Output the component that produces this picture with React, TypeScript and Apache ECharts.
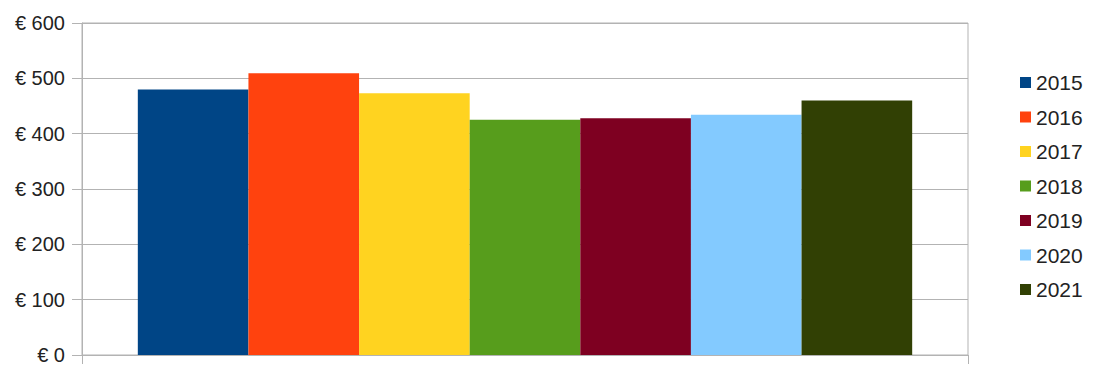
import React, { useEffect, useRef } from "react";
import * as echarts from "echarts";

const years = ["2015", "2016", "2017", "2018", "2019", "2020", "2021"];
const values = [480, 509, 473, 425, 428, 434, 460];
const colors = ["#004586", "#ff420e", "#ffd320", "#579d1c", "#7e0021", "#83caff", "#314004"];
const categories = [""];
const yTicks = { min: 0, max: 600, interval: 100 };

export default function App() {
  const ref = useRef<HTMLDivElement>(null);
  useEffect(() => {
    if (!ref.current) return;
    const chart = echarts.init(ref.current, undefined, { renderer: "svg" });
    const font = "Liberation Sans";
    chart.setOption({
      animation: false,
      grid: {
        left: 82,
        right: 127,
        top: 23,
        bottom: 9,
        show: true,
        borderColor: "#b3b3b3",
        borderWidth: 1,
      },
      legend: {
        orient: "vertical",
        left: 1020,
        top: 72,
        padding: 0,
        itemWidth: 11,
        itemHeight: 11,
        itemGap: 13.5,
        icon: "rect",
        textStyle: { fontFamily: font, fontSize: 21, color: "#222", lineHeight: 20 },
        data: years,
      },
      xAxis: {
        type: "category",
        data: categories,
        axisLine: { show: true, lineStyle: { color: "#b3b3b3" } },
        axisTick: { show: true, length: 9, lineStyle: { color: "#b3b3b3" } },
        axisLabel: { show: false },
      },
      yAxis: {
        type: "value",
        min: yTicks.min,
        max: yTicks.max,
        interval: yTicks.interval,
        axisLine: { show: true, lineStyle: { color: "#b3b3b3" } },
        axisTick: { show: true, length: 10, lineStyle: { color: "#b3b3b3" } },
        splitLine: { show: true, lineStyle: { color: "#b3b3b3" } },
        axisLabel: {
          margin: 17,
          fontFamily: font,
          fontSize: 20,
          color: "#222",
          formatter: (v: number) => "€ " + v,
        },
      },
      series: years.map((y, i) => ({
        name: y,
        type: "bar",
        data: [values[i]],
        itemStyle: { color: colors[i] },
        barGap: "0%",
        barCategoryGap: "12.6%",
      })),
    });
    return () => chart.dispose();
  }, []);
  return <div ref={ref} style={{ width: 1095, height: 365, position: "absolute", left: 0, top: 0 }} />;
}
